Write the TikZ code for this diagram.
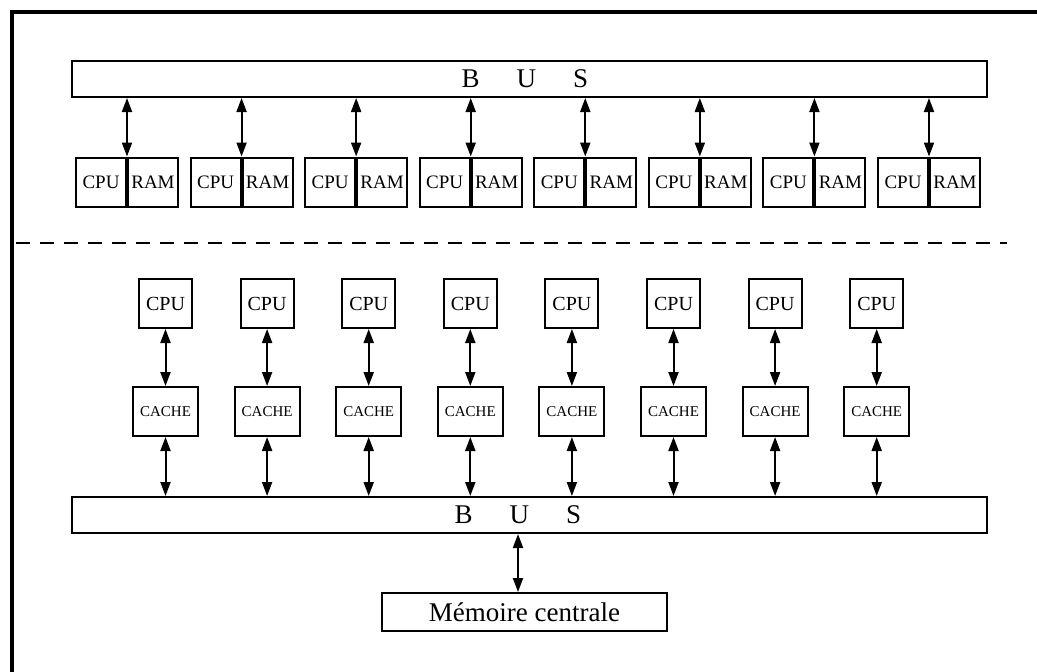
\documentclass[tikz,border=0pt]{standalone}
\usepackage{fontspec}
\setmainfont{Liberation Serif}
\usetikzlibrary{arrows.meta}

\begin{document}
\begin{tikzpicture}[
  x=1pt, y=-1pt,
  box/.style={draw, line width=2pt, inner sep=0pt},
  bus/.style={box, minimum width=915pt, minimum height=36pt},
  busname/.style={font=\fontsize{27}{27}\selectfont, inner sep=0pt},
  half/.style={box, minimum width=50pt, minimum height=49pt, font=\fontsize{19}{19}\selectfont},
  proc/.style={box, minimum width=53pt, minimum height=49pt, font=\fontsize{20}{20}\selectfont},
  cache/.style={box, minimum width=65pt, minimum height=49pt, font=\fontsize{15}{15}\selectfont},
  link/.style={line width=2pt, {Triangle[length=14pt,width=10pt]}-{Triangle[length=14pt,width=10pt]}},
  ]
  \useasboundingbox (0,0) rectangle (1037,672);
  \draw[line width=3.5pt] (12,672) -- (12,12) -- (1037,12);

  % bus with local memories
  \node[bus] (tbus) at (529.5,79) {};
  \node[busname] (tbusname) at (525,79) {B\hspace{37pt}U\hspace{37pt}S};
  \foreach \i in {1,...,8}{
    \pgfmathsetmacro\xd{127+114.57*(\i-1)}
    \node[half, anchor=east] (cpu\i) at (\xd,182) {CPU};
    \node[half, anchor=west] (ram\i) at (\xd,182) {RAM};
    \draw[link] (tbus.south -| cpu\i.east) -- (cpu\i.north east);
  }

  \draw[line width=2pt, dash pattern=on 14pt off 10pt] (16,243) -- (1007,243);

  % shared memory with caches
  \node[bus] (bbus) at (529.5,515) {};
  \node[busname] (bbusname) at (518,515) {B\hspace{37pt}U\hspace{37pt}S};
  \foreach \i in {1,...,8}{
    \pgfmathsetmacro\xc{165.5+101.6*(\i-1)}
    \node[proc] (proc\i) at (\xc,303.5) {CPU};
    \node[cache] (cache\i) at (\xc,411.5) {CACHE};
    \draw[link] (proc\i) -- (cache\i);
    \draw[link] (cache\i.south) -- (cache\i.south |- bbus.north);
  }
  \node[box, minimum width=285pt, minimum height=38pt, font=\fontsize{27}{27}\selectfont] (mem) at (524.5,612) {Mémoire centrale};
  \draw[link] (bbus.south -| bbusname) -- (mem.north -| bbusname);
\end{tikzpicture}
\end{document}
